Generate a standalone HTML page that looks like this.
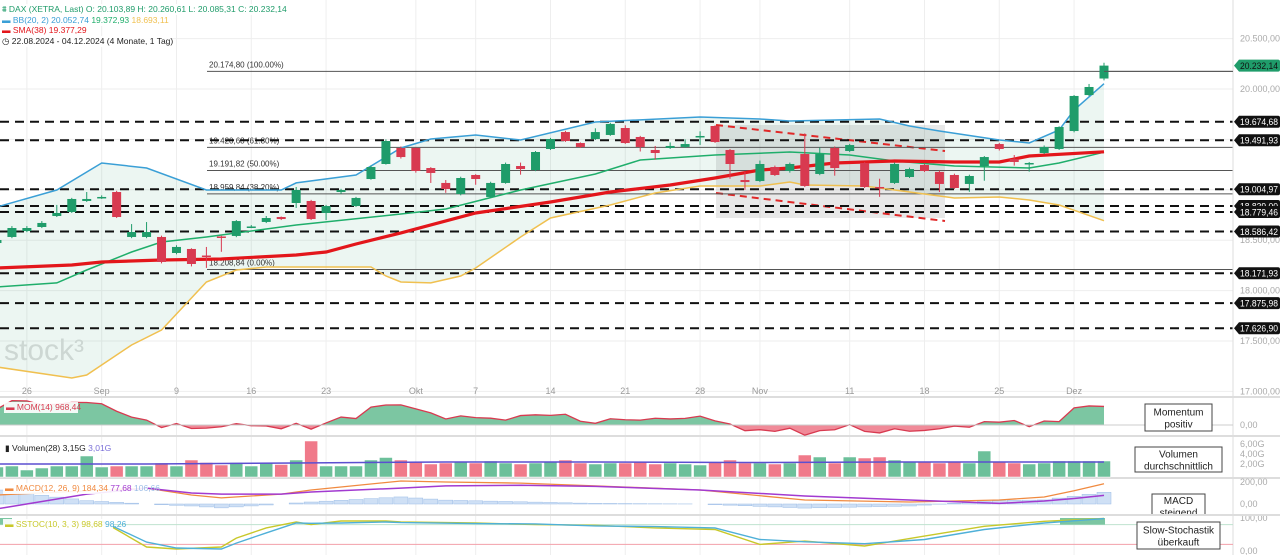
<!DOCTYPE html>
<html><head><meta charset="utf-8"><style>
html,body{margin:0;padding:0;background:#fff;width:1280px;height:555px;overflow:hidden;font-family:"Liberation Sans",sans-serif}
svg text{font-family:"Liberation Sans",sans-serif}
</style></head><body>
<svg id="chart" width="1280" height="555" xmlns="http://www.w3.org/2000/svg"></svg>
<script>
// ---- data ----
const opens  =[18472,18532,18591,18631,18740,18780,18889,18919,18978,18532,18532,18532,18373,18413,18348,18537,18542,18626,18681,18730,18869,18889,18770,18978,18839,19107,19256,19415,19415,19216,19068,18958,19147,18929,19068,19236,19196,19405,19573,19464,19504,19544,19613,19524,19395,19415,19425,19524,19633,19395,19097,19087,19226,19187,19355,19157,19415,19385,19266,19028,19068,19127,19246,19177,19147,19058,19236,19454,19306,19256,19365,19405,19583,19940,20104];
const highs  =[18520,18640,18640,18690,18850,18920,18978,18945,18990,18660,18680,18545,18450,18420,18433,18545,18700,18650,18740,18735,19028,18900,18850,19010,18930,19240,19500,19430,19420,19225,19097,19130,19155,19080,19270,19270,19385,19515,19585,19470,19610,19665,19640,19535,19435,19470,19500,19580,19640,19405,19180,19290,19240,19270,19560,19420,19430,19455,19275,19110,19270,19220,19256,19190,19160,19150,19335,19465,19345,19275,19440,19630,19940,20050,20261];
const lows   =[18450,18520,18580,18620,18730,18770,18880,18910,18720,18520,18520,18270,18360,18240,18225,18385,18530,18620,18670,18700,18820,18700,18700,18960,18830,19100,19250,19310,19170,19068,18970,18945,19050,18920,19060,19150,19185,19395,19475,19415,19494,19535,19455,19380,19300,19405,19415,19445,19465,19110,19000,19077,19137,19170,19028,19145,19140,19375,19018,18930,19058,19117,19177,18978,19008,18980,19090,19390,19240,19180,19355,19395,19570,19930,20085];
const closes =[18502,18621,18621,18671,18770,18909,18909,18929,18730,18581,18581,18284,18433,18264,18338,18527,18690,18636,18720,18710,18998,18710,18839,18998,18919,19226,19484,19325,19187,19167,19008,19117,19107,19068,19256,19206,19375,19504,19484,19425,19573,19653,19464,19425,19365,19435,19454,19534,19474,19256,19077,19256,19147,19256,19038,19355,19216,19444,19028,19018,19256,19206,19187,19058,19018,19137,19325,19405,19276,19266,19425,19623,19931,20020,20232];
const priorCloses=[17661,17339,17354,17615,17680,17722,17726,17812,18005,18166,18322,18421,18357,18448];
const volumes=[2.0,2.2,1.4,1.8,2.2,2.2,4.2,2.0,2.2,2.2,2.2,2.8,2.2,3.4,2.9,2.4,2.9,2.2,2.9,2.5,3.4,7.2,2.2,2.2,2.2,3.4,3.9,3.4,3.0,2.6,2.8,3.0,2.8,3.2,2.8,2.6,2.8,3.0,3.4,2.8,2.6,2.8,2.8,3.0,2.6,2.8,2.6,2.4,3.0,3.4,2.8,2.8,2.6,2.8,4.4,4.0,2.8,4.0,3.8,4.0,3.4,3.0,3.0,2.8,3.0,2.8,5.2,3.0,2.8,2.6,2.8,3.2,3.2,3.2,3.2];
const volMaIdx=[0,10,20,30,40,50,60,74];
const volMaVals=[2.6,2.6,2.8,3.0,3.0,2.9,3.0,3.0];
const bbUpIdx=[0,4,7,10,14,19,20,24,27,29,32,35,40,47,51,53,59,61,63,67,69,71,72,74];
const bbUpVals=[18829,18998,19266,19216,18998,18998,19068,19147,19415,19504,19544,19494,19673,19722,19702,19683,19702,19633,19583,19494,19464,19593,19792,20053];
const bbMidIdx=[0,4,6,9,11,14,20,27,30,35,40,43,48,53,57,60,64,69,71,74];
const bbMidVals=[18036,18076,18204,18383,18482,18532,18651,18760,18810,18998,19157,19296,19345,19375,19345,19286,19236,19216,19266,19373];
const bbLowIdx=[0,5,6,9,11,14,16,18,25,26,27,29,31,32,35,37,41,44,47,51,53,54,58,60,64,67,69,71,74];
const bbLowVals=[17242,17133,17163,17460,17609,18085,18204,18234,18234,18145,18085,18076,18145,18224,18532,18720,18849,18968,19038,19038,19077,19048,19038,18998,18919,18929,18899,18849,18693];
const smaIdx=[0,5,7,11,15,20,22,24,27,32,37,41,45,48,51,53,56,60,64,67,69,74];
const smaVals=[18224,18254,18284,18304,18313,18353,18383,18462,18572,18770,18879,18978,19048,19117,19196,19216,19266,19286,19276,19276,19335,19377];
const macdIdx=[0,6,10,13,15,19,21,27,30,35,40,47,54,61,67,70,72,74];
const macdVals=[82,120,145,82,55,90,127,209,200,190,165,127,36,18,36,64,120,184];
const signalIdx=[0,6,10,13,15,19,21,27,30,35,40,47,54,61,67,70,72,74];
const signalVals=[-45,90,145,100,90,90,109,145,165,170,160,127,73,36,5,27,50,78];
const stochIdx=[7,10,12,15,16,18,20,21,23,26,27,32,36,40,44,48,51,54,58,62,66,70,74];
const stochK=[91,12,6,12,39,70,88,80,91,91,88,85,80,78,70,65,20,30,15,45,75,90,98.68];
const stochD=[91,27,9,6,24,55,85,84,85,88,86,83,82,76,74,70,35,28,22,35,65,85,98.26];
const priceTicks=[17000,17500,18000,18500,19000,19500,20000,20500];
const levelVals=[19674.68,19491.93,19004.97,18839.00,18779.46,18586.42,18171.93,17875.98,17626.90];
const fibVals=[20174.80,19420.68,19191.82,18959.84,18208.84];
const fibLabels=["20.174,80 (100.00%)","19.420,68 (61.80%)","19.191,82 (50.00%)","18.959,84 (38.20%)","18.208,84 (0.00%)"];
const dateLabels=["26","Sep","9","16","23","Okt","7","14","21","28","Nov","11","18","25","Dez"];
const dateIdx=[2,7,12,17,22,28,32,37,42,47,51,57,62,67,72];

// ---- scales ----
const N=closes.length;
const xI=i=>1104-(N-1-i)*14.96;
const yP=p=>89+(20000-p)*0.1008;
const yV=v=>477-v*5;
const yM=m=>425-m*0.019;
const yMa=v=>504-v*0.11;
const yS=v=>551-v*0.33;
const NS="http://www.w3.org/2000/svg";
const svg=document.getElementById('chart');
function mk(tag,attrs,parent,txt){const e=document.createElementNS(NS,tag);for(const k in attrs)e.setAttribute(k,attrs[k]);if(txt!==undefined)e.textContent=txt;(parent||svg).appendChild(e);return e;}
function fmt(v){let s=v.toFixed(2).replace('.',',');let [a,b]=s.split(',');a=a.replace(/\B(?=(\d{3})+(?!\d))/g,'.');return a+','+b;}
function pts(idx,vals,fy){return idx.map((ix,k)=>xI(ix).toFixed(1)+','+fy(vals[k]).toFixed(1)).join(' ');}
function lerp(idx,vals,i){for(let k=0;k<idx.length-1;k++){if(i>=idx[k]&&i<=idx[k+1]){const t=(i-idx[k])/(idx[k+1]-idx[k]);return vals[k]+t*(vals[k+1]-vals[k]);}}return i<idx[0]?vals[0]:vals[vals.length-1];}

// grid
const grid=mk('g',{});


priceTicks.forEach(p=>{const l=mk('line',{x1:0,x2:1233,y1:yP(p),y2:yP(p),stroke:'#eee'},grid);

});
dateIdx.forEach(i=>{const l=mk('line',{x1:xI(i),x2:xI(i),y1:0,y2:555,stroke:'#eee'},grid);

});

// watermark
const wm=mk('text',{x:4,y:360,'font-size':30,fill:'#ddd'},svg,'stock³');



// BB fill
const upPts=bbUpIdx.map((ix,k)=>[xI(ix),yP(bbUpVals[k])]);
const loPts=bbLowIdx.map((ix,k)=>[xI(ix),yP(bbLowVals[k])]).reverse();
const bbFill=mk('polygon',{points:upPts.concat(loPts).map(p=>p.join(',')).join(' '),fill:'rgba(40,160,110,0.09)'});



// wedge region
const wedge=mk('rect',{x:716,y:125,width:229,height:93,fill:'rgba(0,0,0,0.09)'});


const w1=mk('line',{x1:716,y1:125,x2:945,y2:151,stroke:'#e02828','stroke-width':2,'stroke-dasharray':'7,5'});


const w2=mk('line',{x1:716,y1:193,x2:945,y2:221,stroke:'#e02828','stroke-width':2,'stroke-dasharray':'7,5'});



// fib lines
fibVals.forEach((v,k)=>{const y=yP(v);
const l=mk('line',{x1:207,x2:1233,y1:y,y2:y,stroke:'#555','stroke-width':1});


const t=mk('text',{x:209,y:y-4,'font-size':8,fill:'#333'},svg,fibLabels[k]);

});

// horizontal level lines
levelVals.forEach(v=>{const y=yP(v);
const l=mk('line',{x1:0,x2:1233,y1:y,y2:y,stroke:'#111','stroke-width':2,'stroke-dasharray':'9,6'});

});

// indicator lines
const bbU=mk('polyline',{points:pts(bbUpIdx,bbUpVals,yP),fill:'none',stroke:'#3a9fd6','stroke-width':1.5});


const bbM=mk('polyline',{points:pts(bbMidIdx,bbMidVals,yP),fill:'none',stroke:'#1fae6b','stroke-width':1.5});


const bbL=mk('polyline',{points:pts(bbLowIdx,bbLowVals,yP),fill:'none',stroke:'#f0c050','stroke-width':1.5});


const sma=mk('polyline',{points:pts(smaIdx,smaVals,yP),fill:'none',stroke:'#e3161b','stroke-width':3.2});



// candles
for(let i=0;i<N;i++){const up=closes[i]>=opens[i];const c=up?'#1f9c6a':'#d83a50';const x=xI(i);
const g=mk('g',{});


mk('line',{x1:x,x2:x,y1:yP(highs[i]),y2:yP(lows[i]),stroke:c,'stroke-width':1},g);
const t=yP(Math.max(opens[i],closes[i])),b=yP(Math.min(opens[i],closes[i]));
mk('rect',{x:x-4.5,y:t,width:9,height:Math.max(1.5,b-t),fill:c},g);}

// right axis
mk('line',{x1:1233,x2:1233,y1:0,y2:555,stroke:'#ddd'});
priceTicks.forEach(p=>{const t=mk('text',{x:1240,y:yP(p)+3,'font-size':9,fill:'#aaa'},svg,fmt(p));

});
function tag(y,txt,col,name){const g=mk('g',{});


mk('path',{d:`M1234,${y} L1239,${y-6} L1278,${y-6} Q1280,${y-6} 1280,${y-4} L1280,${y+4} Q1280,${y+6} 1278,${y+6} L1239,${y+6} Z`,fill:col},g);
mk('text',{x:1240,y:y+3.3,'font-size':9,textLength:38,lengthAdjust:'spacingAndGlyphs',fill:col==='#1f9c6a'?'#111':'#fff'},g,txt);}
levelVals.forEach(v=>tag(yP(v),fmt(v),'#111','level-tag'));
tag(yP(closes[N-1]),fmt(20232.14),'#1f9c6a','last-price-tag');
mk('line',{x1:1104,x2:1233,y1:yP(20174.8),y2:yP(20174.8),stroke:'#555'});

// date labels
dateLabels.forEach((d,k)=>{const t=mk('text',{x:xI(dateIdx[k]),y:394,'font-size':9,fill:'#999','text-anchor':'middle'},svg,d);

});

// panel separators
[397,436,478,515].forEach(y=>{const l=mk('line',{x1:0,x2:1280,y1:y,y2:y,stroke:'#ddd','stroke-width':2});

});

// MOM
const all=priorCloses.concat(closes);
const mom=closes.map((c,i)=>c-all[i]);
let mp='M'+xI(0)+','+yM(0);mom.forEach((m,i)=>mp+=' L'+xI(i)+','+yM(m));mp+=' L'+xI(N-1)+','+yM(0)+' Z';
mk('clipPath',{id:'cpPos'});mk('rect',{x:0,y:397,width:1233,height:28},document.getElementById('cpPos'));
mk('clipPath',{id:'cpNeg'});mk('rect',{x:0,y:425,width:1233,height:11},document.getElementById('cpNeg'));
const mpos=mk('path',{d:mp,fill:'#7cc6a2','clip-path':'url(#cpPos)'});


const mneg=mk('path',{d:mp,fill:'#f08a98','clip-path':'url(#cpNeg)'});


const mline=mk('polyline',{points:mom.map((m,i)=>xI(i)+','+yM(m)).join(' '),fill:'none',stroke:'#d83a50','stroke-width':1.3});


mk('line',{x1:0,x2:1233,y1:425,y2:425,stroke:'#ccc'});

// Volume
for(let i=0;i<N;i++){const up=closes[i]>=opens[i];
const r=mk('rect',{x:xI(i)-6.5,y:yV(volumes[i]),width:13,height:volumes[i]*5,fill:up?'#6cc09a':'#f07a8a',stroke:'#fff','stroke-width':0.5});

}
const vma=mk('polyline',{points:pts(volMaIdx,volMaVals,yV),fill:'none',stroke:'#5b4fd0','stroke-width':1.5});



// MACD
for(let i=0;i<N;i++){const h=lerp(macdIdx,macdVals,i)-lerp(signalIdx,signalVals,i);
const r=mk('rect',{x:xI(i)-7,y:Math.min(yMa(h),yMa(0)),width:14,height:Math.abs(yMa(h)-yMa(0)),fill:'#cfe0f5',stroke:'#9bbce6','stroke-width':0.5});

}
const ml=mk('polyline',{points:pts(macdIdx,macdVals,yMa),fill:'none',stroke:'#f08a40','stroke-width':1.3});


const sl=mk('polyline',{points:pts(signalIdx,signalVals,yMa),fill:'none',stroke:'#a23ad0','stroke-width':1.5});



// Stoch
mk('line',{x1:0,x2:1233,y1:yS(80),y2:yS(80),stroke:'#bfe3cf'});
mk('line',{x1:0,x2:1233,y1:yS(20),y2:yS(20),stroke:'#f2a0aa'});
const ob=mk('rect',{x:1060,y:yS(100),width:45,height:yS(80)-yS(100),fill:'#7cc6a2'});


const obl=mk('rect',{x:0,y:yS(100),width:12,height:yS(80)-yS(100),fill:'#7cc6a2'});


const sk=mk('polyline',{points:pts(stochIdx,stochK,yS),fill:'none',stroke:'#c8c82a','stroke-width':1.4});


const sd=mk('polyline',{points:pts(stochIdx,stochD,yS),fill:'none',stroke:'#4fb0d8','stroke-width':1.4});



// sub-axis labels
[['6,00G',447],['4,00G',457],['2,00G',467],['0,00',428],['200,00',485],['0,00',507],['100,00',521],['0,00',554]].forEach(a=>{
const t=mk('text',{x:1240,y:a[1],'font-size':9,fill:'#aaa'},svg,a[0]);

});

// legends
function legend(x,y,w,parts,name){const g=mk('g',{});


mk('rect',{x:x,y:y-8,width:w,height:11,fill:'rgba(255,255,255,0.9)'},g);
const t=mk('text',{x:x+2,y:y,'font-size':8.5},g);parts.forEach(p=>mk('tspan',{fill:p[1]},t,p[0]));}
legend(0,12,265,[['⩩ ','#1f9c6a'],['DAX (XETRA, Last)  O: 20.103,89  H: 20.260,61  L: 20.085,31  C: 20.232,14','#1f9c6a']],'legend-price');
legend(0,23,160,[['▬ ','#3a9fd6'],['BB(20, 2) 20.052,74 ','#3a9fd6'],['19.372,93 ','#1fae6b'],['18.693,11','#f0c050']],'legend-bb');
legend(0,33,100,[['▬ ','#e3161b'],['SMA(38)  19.377,29','#e3161b']],'legend-sma');
legend(0,44,170,[['◷ ','#222'],['22.08.2024 - 04.12.2024  (4 Monate, 1 Tag)','#222']],'legend-range');
legend(4,410,74,[['▬ ','#d83a50'],['MOM(14)  968,44','#d83a50']],'legend-mom');
legend(3,451,105,[['▮ ','#222'],['Volumen(28)  3,15G  ','#222'],['3,01G','#7a6fd8']],'legend-volume');
legend(3,491,145,[['▬ ','#f08a40'],['MACD(12, 26, 9)  184,34  ','#f08a40'],['77,68  ','#a23ad0'],['106,66','#9bbce6']],'legend-macd');
legend(3,527,110,[['▬ ','#c8c82a'],['SSTOC(10, 3, 3)  98,68  ','#c8c82a'],['98,26','#4fb0d8']],'legend-stoch');

// annotation boxes
function box(x,y,w,h,l1,l2,name){const g=mk('g',{});


mk('rect',{x:x,y:y,width:w,height:h,fill:'#fff',stroke:'#444','stroke-width':1},g);
mk('text',{x:x+w/2,y:y+h/2-2,'font-size':10,'text-anchor':'middle',fill:'#222'},g,l1);
mk('text',{x:x+w/2,y:y+h/2+10,'font-size':10,'text-anchor':'middle',fill:'#222'},g,l2);}
box(1145,404,67,27,'Momentum','positiv','momentum-note');
box(1135,447,87,25,'Volumen','durchschnittlich','volume-note');
box(1152,494,53,24,'MACD','steigend','macd-note');
mk('rect',{x:1140,y:515,width:80,height:6,fill:'#fff'});
mk('line',{x1:1100,x2:1280,y1:515,y2:515,stroke:'#ddd','stroke-width':2});
box(1137,522,83,27,'Slow-Stochastik','überkauft','stoch-note');
</script>
</body></html>
